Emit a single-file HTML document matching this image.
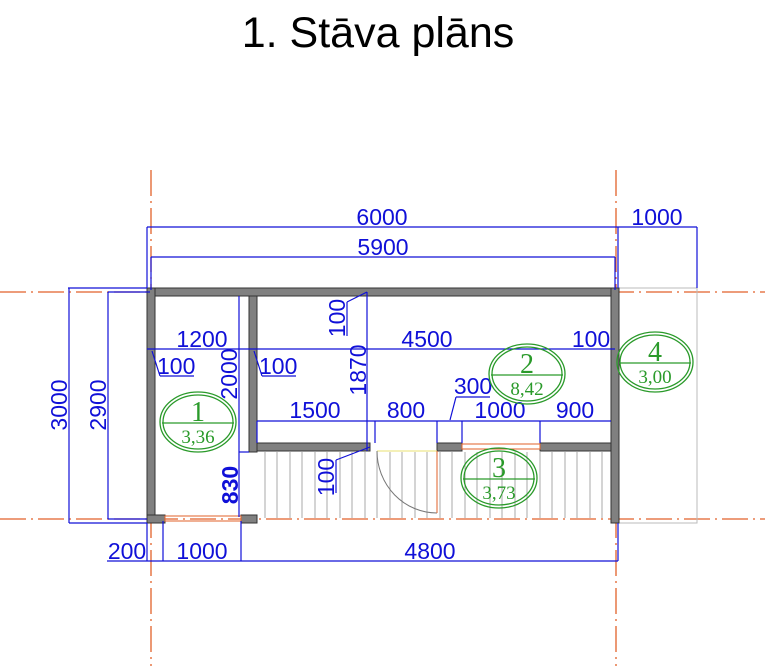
<!DOCTYPE html>
<html><head><meta charset="utf-8"><style>
html,body{margin:0;padding:0;background:#fff;}
svg{display:block;}
.t{font-family:"Liberation Sans",sans-serif;fill:#1010d8;font-size:23px;}
.g{font-family:"Liberation Serif",serif;fill:#2a9a2a;}
</style></head><body>
<svg width="765" height="666" viewBox="0 0 765 666" xmlns="http://www.w3.org/2000/svg">
<text x="378" y="47" text-anchor="middle" font-family="Liberation Sans,sans-serif" font-size="43" fill="#000">1. Stāva plāns</text>

<g stroke="#e2622a" stroke-width="1.3" stroke-dasharray="26,5,2,5" fill="none">
<line x1="151" y1="170" x2="151" y2="666"/>
<line x1="616" y1="170" x2="616" y2="666"/>
<line x1="0" y1="292" x2="765" y2="292"/>
<line x1="0" y1="519" x2="765" y2="519"/>
</g>

<rect x="618" y="288" width="79" height="235" fill="none" stroke="#bbb" stroke-width="1"/>

<g stroke="#aaa" stroke-width="1">
<line x1="265" y1="452" x2="265" y2="518"/><line x1="277" y1="452" x2="277" y2="518"/><line x1="290" y1="452" x2="290" y2="518"/><line x1="302" y1="452" x2="302" y2="518"/><line x1="315" y1="452" x2="315" y2="518"/><line x1="327" y1="452" x2="327" y2="518"/><line x1="340" y1="452" x2="340" y2="518"/><line x1="352" y1="452" x2="352" y2="518"/><line x1="365" y1="452" x2="365" y2="518"/><line x1="377" y1="452" x2="377" y2="518"/><line x1="390" y1="452" x2="390" y2="518"/><line x1="402" y1="452" x2="402" y2="518"/><line x1="415" y1="452" x2="415" y2="518"/><line x1="427" y1="452" x2="427" y2="518"/><line x1="440" y1="452" x2="440" y2="518"/><line x1="452" y1="452" x2="452" y2="518"/><line x1="465" y1="452" x2="465" y2="518"/><line x1="477" y1="452" x2="477" y2="518"/><line x1="490" y1="452" x2="490" y2="518"/><line x1="502" y1="452" x2="502" y2="518"/><line x1="515" y1="452" x2="515" y2="518"/><line x1="527" y1="452" x2="527" y2="518"/><line x1="540" y1="452" x2="540" y2="518"/><line x1="552" y1="452" x2="552" y2="518"/><line x1="565" y1="452" x2="565" y2="518"/><line x1="577" y1="452" x2="577" y2="518"/><line x1="590" y1="452" x2="590" y2="518"/><line x1="602" y1="452" x2="602" y2="518"/>
</g>

<g fill="#808080" stroke="#333" stroke-width="1">
<rect x="147" y="288" width="472" height="8"/>
<rect x="147" y="288" width="8" height="235"/>
<rect x="611" y="288" width="8" height="235"/>
<rect x="249" y="296" width="8" height="156"/>
<rect x="257" y="443" width="113" height="8"/>
<rect x="437" y="443" width="25" height="8"/>
<rect x="540" y="443" width="71" height="8"/>
<rect x="147" y="515" width="18" height="8"/>
<rect x="241" y="515" width="16" height="8"/>
</g>
<g fill="none" stroke="#e2622a" stroke-width="1">
<rect x="165" y="516" width="76" height="5"/>
<rect x="462" y="444" width="78" height="5"/>
</g>
<line x1="377" y1="451" x2="437" y2="451" stroke="#e8e070" stroke-width="1"/>
<path d="M377 451 A60 62 0 0 0 437 513" fill="none" stroke="#777" stroke-width="1"/>
<line x1="437" y1="451" x2="437" y2="513" stroke="#e2622a" stroke-width="1"/>

<g stroke="#1010d8" stroke-width="1.2" fill="none">
<line x1="147" y1="227" x2="697" y2="227"/>
<line x1="147" y1="227" x2="147" y2="288"/>
<line x1="618" y1="227" x2="618" y2="288"/>
<line x1="697" y1="227" x2="697" y2="288"/>
<line x1="151" y1="257" x2="615" y2="257"/>
<line x1="151" y1="257" x2="151" y2="290"/>
<line x1="615" y1="257" x2="615" y2="290"/>
<line x1="68" y1="288" x2="147" y2="288"/>
<line x1="69" y1="288" x2="69" y2="523"/>
<line x1="69" y1="523" x2="147" y2="523"/>
<line x1="108" y1="292" x2="150" y2="292"/>
<line x1="108" y1="292" x2="108" y2="519"/>
<line x1="108" y1="519" x2="147" y2="519"/>
<line x1="107" y1="561" x2="618" y2="561"/>
<line x1="147" y1="523" x2="147" y2="561"/>
<line x1="163" y1="521" x2="163" y2="561"/>
<line x1="241" y1="521" x2="241" y2="561"/>
<line x1="618" y1="523" x2="618" y2="561"/>
<line x1="147" y1="349" x2="615" y2="349"/>
<line x1="239" y1="296" x2="239" y2="517"/>
<line x1="239" y1="452" x2="249" y2="452"/>
<line x1="367" y1="292" x2="367" y2="451"/>
<line x1="257" y1="421" x2="611" y2="421"/>
<line x1="375" y1="421" x2="375" y2="443"/>
<line x1="437" y1="421" x2="437" y2="443"/>
<line x1="462" y1="421" x2="462" y2="443"/>
<line x1="540" y1="421" x2="540" y2="443"/>
<line x1="257" y1="421" x2="257" y2="443"/>
<line x1="367" y1="292" x2="347" y2="302"/>
<line x1="347" y1="302" x2="347" y2="336"/>
<line x1="370" y1="447" x2="336" y2="460"/>
<line x1="336" y1="460" x2="336" y2="493"/>
<line x1="152" y1="351" x2="160" y2="376"/><line x1="160" y1="376" x2="194" y2="376"/>
<line x1="254" y1="351" x2="262" y2="376"/><line x1="262" y1="376" x2="296" y2="376"/>
<line x1="450" y1="420" x2="456" y2="397"/><line x1="456" y1="397" x2="490" y2="397"/>
</g>

<text class="t" x="382" y="225" text-anchor="middle">6000</text>
<text class="t" x="383" y="255" text-anchor="middle">5900</text>
<text class="t" x="657" y="225" text-anchor="middle">1000</text>
<text class="t" x="67" y="405" text-anchor="middle" transform="rotate(-90 67 405)">3000</text>
<text class="t" x="106" y="405" text-anchor="middle" transform="rotate(-90 106 405)">2900</text>
<text class="t" x="127" y="559" text-anchor="middle">200</text>
<text class="t" x="202" y="559" text-anchor="middle">1000</text>
<text class="t" x="430" y="559" text-anchor="middle">4800</text>
<text class="t" x="202" y="347" text-anchor="middle">1200</text>
<text class="t" x="427" y="347" text-anchor="middle">4500</text>
<text class="t" x="591" y="347" text-anchor="middle">100</text>
<text class="t" x="157" y="374">100</text>
<text class="t" x="259" y="374">100</text>
<text class="t" x="237" y="374" text-anchor="middle" transform="rotate(-90 237 374)">2000</text>
<text class="t" x="366" y="370" text-anchor="middle" transform="rotate(-90 366 370)">1870</text>
<text class="t" x="345" y="318" text-anchor="middle" transform="rotate(-90 345 318)">100</text>
<text class="t" x="334" y="477" text-anchor="middle" transform="rotate(-90 334 477)">100</text>
<text class="t" x="238" y="485" text-anchor="middle" transform="rotate(-90 238 485)" font-weight="bold">830</text>
<text class="t" x="315" y="418" text-anchor="middle">1500</text>
<text class="t" x="406" y="418" text-anchor="middle">800</text>
<text class="t" x="473" y="394" text-anchor="middle">300</text>
<text class="t" x="500" y="418" text-anchor="middle">1000</text>
<text class="t" x="575" y="418" text-anchor="middle">900</text>

<g fill="none" stroke="#2a9a2a" stroke-width="1.3">
<ellipse cx="198" cy="422" rx="38" ry="30"/><ellipse cx="198" cy="422" rx="35" ry="27"/><line x1="162" y1="423" x2="234" y2="423"/>
<ellipse cx="527" cy="374" rx="38" ry="30"/><ellipse cx="527" cy="374" rx="35" ry="27"/><line x1="491" y1="375" x2="563" y2="375"/>
<ellipse cx="499" cy="478" rx="38" ry="30"/><ellipse cx="499" cy="478" rx="35" ry="27"/><line x1="463" y1="479" x2="535" y2="479"/>
<ellipse cx="655" cy="362" rx="38" ry="30"/><ellipse cx="655" cy="362" rx="35" ry="27"/><line x1="619" y1="363" x2="691" y2="363"/>
</g>
<g class="g" text-anchor="middle">
<text x="198" y="421" font-size="28">1</text><text x="198" y="443" font-size="19">3,36</text>
<text x="527" y="373" font-size="28">2</text><text x="527" y="395" font-size="19">8,42</text>
<text x="499" y="477" font-size="28">3</text><text x="499" y="499" font-size="19">3,73</text>
<text x="655" y="361" font-size="28">4</text><text x="655" y="383" font-size="19">3,00</text>
</g>
</svg>
</body></html>
